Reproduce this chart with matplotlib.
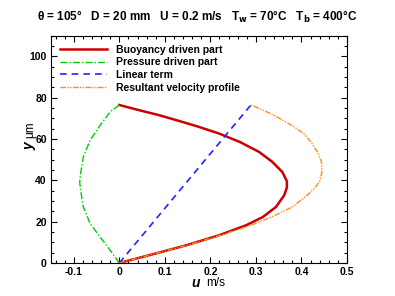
import matplotlib.pyplot as plt
from matplotlib.ticker import MultipleLocator

plt.rcParams['font.family'] = ['Liberation Sans', 'DejaVu Sans']

# points: velocity u (m/s) at height y (um)
buoy_y = [0, 4.2, 8.5, 13.4, 18.2, 22.2, 27.1, 32.7, 36.5, 39.5, 44.0, 48.9,
          53.7, 58.5, 62.6, 65.8, 68.7, 71.5, 74.2, 76.4]
buoy_u = [0, 0.073, 0.146, 0.219, 0.278, 0.315, 0.344, 0.362, 0.368, 0.368, 0.358,
          0.336, 0.307, 0.265, 0.219, 0.175, 0.131, 0.087, 0.038, 0]

press_y = [0, 6.1, 12.5, 19.0, 27.1, 35.2, 39.2, 43.2, 51.3, 59.4, 66.6, 73.1, 76.4]
press_u = [0, -0.020, -0.042, -0.064, -0.079, -0.085, -0.087, -0.085, -0.079,
           -0.064, -0.042, -0.020, 0]

lin_y = [0, 76.4]
lin_u = [0, 0.289]

total_y = [0, 4.2, 8.5, 13.4, 18.2, 22.2, 27.1, 32.7, 36.5, 39.5, 44.0, 48.9,
           53.7, 58.5, 62.6, 65.8, 68.7, 71.5, 74.2, 76.4]
total_u = [0, 0.073, 0.147, 0.222, 0.288, 0.334, 0.380, 0.412, 0.430, 0.440, 0.445,
           0.444, 0.435, 0.421, 0.405, 0.384, 0.362, 0.339, 0.313, 0.289]

W, H = 395, 296
fig = plt.figure(figsize=(W / 100, H / 100), dpi=100)
ax = fig.add_axes([51 / W, 1 - 263 / H, 296 / W, 227.5 / H])

ax.plot(buoy_u, buoy_y, color='#cc0000', lw=1.8, label='Buoyancy driven part')
ax.plot(press_u, press_y, color='#00cc00', lw=1.0, dashes=(5, 1.5, 1, 1.5),
        label='Pressure driven part')
ax.plot(lin_u, lin_y, color='#2222ff', lw=1.2, dashes=(4, 3), label='Linear term')
ax.plot(total_u, total_y, color='#ff8c1a', lw=1.0, dashes=(4, 1, 1, 1, 1, 1),
        label='Resultant velocity profile')

ax.set_xlim(-0.15, 0.5)
ax.set_ylim(0, 110)
ax.xaxis.set_minor_locator(MultipleLocator(0.02))
ax.yaxis.set_major_locator(MultipleLocator(20))
ax.yaxis.set_minor_locator(MultipleLocator(5))
ax.tick_params(which='both', direction='in', top=True, right=True, width=0.8)
ax.tick_params(which='major', length=4, labelsize=7.5, pad=3)
ax.tick_params(which='minor', length=2)
ax.set_xticks([-0.1, 0, 0.1, 0.2, 0.3, 0.4, 0.5])
ax.set_xticklabels(['-0.1', '0', '0.1', '0.2', '0.3', '0.4', '0.5'])
for lab in ax.get_xticklabels() + ax.get_yticklabels():
    lab.set_fontweight('bold')

leg = ax.legend(loc='upper left', frameon=False, fontsize=7.5, handlelength=4.5,
                handletextpad=0.8, labelspacing=0.25, borderaxespad=0.5)
for t in leg.get_texts():
    t.set_fontweight('bold')

fig.text(197 / W, 1 - 17 / H,
         'θ = 105°   D = 20 mm   U = 0.2 m/s   T$_\\mathbf{w}$ = 70°C   T$_\\mathbf{b}$ = 400°C',
         ha='center', va='center', fontsize=8.5, fontweight='bold')

fig.text(200 / W, 1 - 283 / H, 'u', ha='right', va='center', fontsize=10,
         fontweight='bold', fontstyle='italic')
fig.text(206 / W, 1 - 283 / H, 'm/s', ha='left', va='center', fontsize=8.5)
fig.text(30 / W, 1 - 142 / H, 'y', ha='center', va='top', rotation=90, fontsize=10,
         fontweight='bold', fontstyle='italic')
fig.text(30 / W, 1 - 138 / H, 'μm', ha='center', va='bottom', rotation=90, fontsize=8.5)

fig.savefig('out.png', dpi=100)
